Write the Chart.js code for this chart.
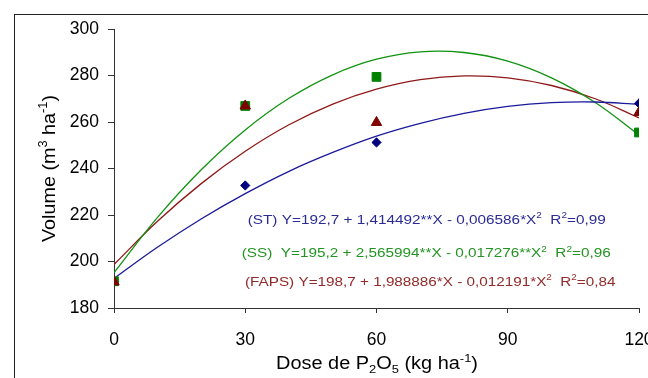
<!DOCTYPE html>
<html><head><meta charset="utf-8">
<script src="https://cdn.jsdelivr.net/npm/chart.js@4/dist/chart.umd.min.js"></script>
<style>html,body{margin:0;padding:0;background:#fff;}canvas{display:block;}</style>
</head><body>
<canvas id="c" width="648" height="378"></canvas>
<script>
// ---- data ----
const doses = [0, 30, 60, 120];
const stObs = [191.4, 232.7, 251.2, 268.0];
const ssObs = [191.5, 266.9, 279.4, 255.5];
const fapsObs = [191.2, 266.9, 259.8, 264.1];

const curveDoses = [0, 10, 20, 30, 40, 50, 60, 70, 80, 90, 100, 110, 120];
const stFit = [192.7, 206.2, 218.4, 229.2, 238.8, 246.9, 253.9, 259.4, 263.7, 266.7, 268.3, 268.6, 267.6];
const ssFit = [195.2, 219.1, 239.6, 256.6, 270.2, 280.3, 287.0, 290.2, 289.9, 286.2, 279.0, 268.4, 254.4];
const fapsFit = [198.7, 217.4, 233.6, 247.4, 258.8, 267.7, 274.1, 278.2, 279.8, 279.0, 275.7, 270.0, 261.8];

const xTicks = [0, 30, 60, 90, 120];
const yTicks = [180, 200, 220, 240, 260, 280, 300];

const eqST = [["(ST) Y=192,7 + 1,414492**X - 0,006586*X"], ["2", "sup"], ["  R"], ["2", "sup"], ["=0,99"]];
const eqSS = [["(SS)  Y=195,2 + 2,565994**X - 0,017276**X"], ["2", "sup"], ["  R"], ["2", "sup"], ["=0,96"]];
const eqFAPS = [["(FAPS) Y=198,7 + 1,988886*X - 0,012191*X"], ["2", "sup"], ["  R"], ["2", "sup"], ["=0,84"]];
const yTitle = [["Volume (m"], ["3", "sup"], [" ha"], ["-1", "sup"], [")"]];
const xTitle = [["Dose de P"], ["2", "sub"], ["O"], ["5", "sub"], [" (kg ha"], ["-1", "sup"], [")"]];

// ---- styling ----
const FONT = "'Liberation Sans', Arial, Helvetica, sans-serif";
const C_ST = '#000080', C_SS = '#008000', C_FAPS = '#800000';
const L_ST = '#1a1a9a', L_SS = '#119311', L_FAPS = '#8f1818';
const T_ST = '#2b2b96', T_SS = '#239423', T_FAPS = '#922a2a';

function pts(xs, ys) { return xs.map((x, i) => ({ x: x, y: ys[i] })); }

function runFont(size, kind) {
  const s = kind ? size * 0.65 : size;
  return s.toFixed(2) + 'px ' + FONT;
}
function drawRich(ctx, runs, size, color, targetW) {
  let total = 0;
  runs.forEach(r => { ctx.font = runFont(size, r[1]); total += ctx.measureText(r[0]).width; });
  const sx = targetW ? targetW / total : 1;
  ctx.save();
  ctx.scale(sx, 1);
  ctx.fillStyle = color;
  ctx.textBaseline = 'alphabetic';
  ctx.textAlign = 'left';
  let x = 0;
  runs.forEach(r => {
    ctx.font = runFont(size, r[1]);
    let dy = 0;
    if (r[1] === 'sup') dy = -size * 0.42;
    if (r[1] === 'sub') dy = size * 0.22;
    ctx.fillText(r[0], x, dy);
    x += ctx.measureText(r[0]).width;
  });
  ctx.restore();
}

const decor = {
  id: 'decor',
  beforeDraw(chart) {
    const ctx = chart.ctx;
    ctx.save();
    ctx.fillStyle = '#fff';
    ctx.fillRect(0, 0, chart.width, chart.height);
    ctx.strokeStyle = '#222';
    ctx.lineWidth = 1;
    ctx.strokeRect(14.5, 14.5, 800, 600);
    ctx.restore();
  },
  afterDraw(chart) {
    const ctx = chart.ctx;
    // y axis title
    ctx.save(); ctx.translate(55, 242); ctx.rotate(-Math.PI / 2);
    drawRich(ctx, yTitle, 18.5, '#000', 147); ctx.restore();
    // x axis title
    ctx.save(); ctx.translate(276, 369.3);
    drawRich(ctx, xTitle, 17.5, '#000', 202); ctx.restore();
    // regression equations
    ctx.save(); ctx.translate(247.7, 223.8); drawRich(ctx, eqST, 13.4, T_ST, 358); ctx.restore();
    ctx.save(); ctx.translate(241.7, 257.3); drawRich(ctx, eqSS, 13.4, T_SS, 369); ctx.restore();
    ctx.save(); ctx.translate(245, 285.7); drawRich(ctx, eqFAPS, 13.4, T_FAPS, 370.5); ctx.restore();
  }
};

function curve(label, data, color) {
  return { type: 'line', label, data: pts(curveDoses, data), borderColor: color, borderWidth: 1.3,
    pointRadius: 0, tension: 0.4, fill: false, order: 10 };
}
function marks(label, data, color, style, r, order) {
  return { type: 'line', label, data: pts(doses, data), showLine: false, pointStyle: style,
    pointRadius: r, pointBackgroundColor: color, pointBorderColor: color, pointBorderWidth: 1, order };
}

new Chart(document.getElementById('c'), {
  type: 'line',
  data: {
    datasets: [
      curve('ST fit', stFit, L_ST),
      curve('SS fit', ssFit, L_SS),
      curve('FAPS fit', fapsFit, L_FAPS),
      marks('ST', stObs, C_ST, 'rectRot', 4.6, 3),
      marks('SS', ssObs, C_SS, 'rect', 6.2, 2),
      marks('FAPS', fapsObs, C_FAPS, 'triangle', 6, 1)
    ]
  },
  options: {
    responsive: false, animation: false, devicePixelRatio: 1,
    layout: { padding: { left: 0, top: 29, right: 9, bottom: 0 } },
    plugins: { legend: { display: false }, tooltip: { enabled: false } },
    scales: {
      x: {
        type: 'linear', position: 'bottom', min: 0, max: 120,
        afterBuildTicks: s => { s.ticks = xTicks.map(v => ({ value: v })); },
        afterFit: s => { s.height = 70; s.paddingLeft = 0; s.paddingRight = 0; },
        ticks: { color: '#000', font: { family: FONT, size: 17.5 }, padding: 17, maxRotation: 0, autoSkip: false },
        grid: { drawOnChartArea: false, drawTicks: true, tickLength: 5, color: '#333', tickColor: '#333' },
        border: { display: true, color: '#333', width: 1 }
      },
      y: {
        type: 'linear', position: 'left', min: 180, max: 300,
        afterBuildTicks: s => { s.ticks = yTicks.map(v => ({ value: v })); },
        afterFit: s => { s.width = 114; s.paddingTop = 0; s.paddingBottom = 0; },
        ticks: { color: '#000', font: { family: FONT, size: 17.5 }, padding: 9 },
        grid: { drawOnChartArea: false, drawTicks: true, tickLength: 6, color: '#333', tickColor: '#333' },
        border: { display: true, color: '#333', width: 1 }
      }
    }
  },
  plugins: [decor]
});
</script>
</body></html>
